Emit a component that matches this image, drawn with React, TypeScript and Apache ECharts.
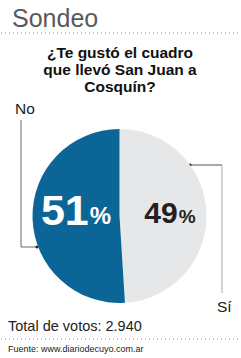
import React, { useEffect, useRef } from "react";
import * as echarts from "echarts";

const categories = ["Sí", "No"];
const values = [49, 51];
const colors = ["#e6e7e8", "#0b6597"];
const titleText = "Sondeo";
const questionLines = ["¿Te gustó el cuadro", "que llevó San Juan a", "Cosquín?"];
const totalText = "Total de votos: 2.940";
const sourceText = "Fuente: www.diariodecuyo.com.ar";

const FONT = "'Liberation Sans', Arial, Helvetica, sans-serif";

export default function App() {
  const ref = useRef<HTMLDivElement>(null);
  useEffect(() => {
    document.body.style.margin = "0";
    const chart = echarts.init(ref.current!, null, { renderer: "svg" });
    const labelOffsets = [
      [4, -3],
      [3, -8],
    ];
    const rich = {
      big: { fontSize: 43, fontWeight: "bold", fontFamily: FONT, color: "#fff", verticalAlign: "bottom", lineHeight: 44 },
      bigp: { fontSize: 24, fontWeight: "bold", fontFamily: FONT, color: "#fff", verticalAlign: "bottom", lineHeight: 44, padding: [0, 0, 4, 1] },
      mid: { fontSize: 30, fontWeight: "bold", fontFamily: FONT, color: "#231f20", verticalAlign: "bottom", lineHeight: 32 },
      midp: { fontSize: 19, fontWeight: "bold", fontFamily: FONT, color: "#231f20", verticalAlign: "bottom", lineHeight: 32, padding: [0, 0, 2, 1] },
    };
    const data = categories.map((c, i) => ({
      name: c,
      value: values[i],
      itemStyle: { color: colors[i] },
      label: {
        offset: labelOffsets[i],
        formatter: i === 1 ? "{big|{c}}{bigp|%}" : "{mid|{c}}{midp|%}",
      },
    }));
    const dotted = (y: number) => ({
      type: "line",
      shape: { x1: 1, y1: y, x2: 241, y2: y },
      style: { stroke: "#888", lineWidth: 1, lineDash: [1, 3] },
    });
    chart.setOption({
      animation: false,
      backgroundColor: "#ffffff",
      series: [
        {
          type: "pie",
          center: [119.5, 216],
          radius: [0, 87],
          startAngle: 90,
          clockwise: true,
          silent: true,
          label: { show: true, position: "inside", rich },
          labelLine: { show: false },
          itemStyle: { borderWidth: 0 },
          data,
        },
      ],
      graphic: [
        {
          type: "text",
          left: 12,
          top: 5,
          style: { text: titleText, font: `25px ${FONT}`, fill: "#58595b" },
        },
        dotted(33),
        ...questionLines.map((t, i) => ({
          type: "text",
          x: 120,
          y: 52 + i * 17,
          style: {
            text: t,
            font: `bold 15.5px ${FONT}`,
            fill: "#111",
            align: "center",
            verticalAlign: "middle",
          },
        })),
        {
          type: "text",
          x: 15,
          y: 108,
          style: { text: categories[1], font: `15.5px ${FONT}`, fill: "#222", verticalAlign: "middle" },
        },
        {
          type: "polyline",
          shape: { points: [[21, 120], [21, 247], [37, 247]] },
          style: { stroke: "#666", lineWidth: 1, fill: "none" },
        },
        { type: "circle", shape: { cx: 37, cy: 247, r: 1.5 }, style: { fill: "#222" } },
        {
          type: "polyline",
          shape: { points: [[190, 165], [222, 165]] },
          style: { stroke: "#555", lineWidth: 1, fill: "none" },
        },
        {
          type: "line",
          shape: { x1: 222, y1: 165, x2: 222, y2: 293 },
          style: { stroke: "#aaa", lineWidth: 1 },
        },
        { type: "circle", shape: { cx: 190, cy: 165, r: 1.5 }, style: { fill: "#222" } },
        {
          type: "text",
          x: 217,
          y: 306,
          style: { text: categories[0], font: `15.5px ${FONT}`, fill: "#222", verticalAlign: "middle" },
        },
        {
          type: "text",
          x: 8,
          y: 326,
          style: { text: totalText, font: `14.5px ${FONT}`, fill: "#222", verticalAlign: "middle" },
        },
        dotted(339),
        {
          type: "text",
          x: 8,
          y: 349,
          style: { text: sourceText, font: `9px ${FONT}`, fill: "#222", verticalAlign: "middle" },
        },
      ],
    });
    return () => chart.dispose();
  }, []);
  return <div ref={ref} style={{ width: 241, height: 358 }} />;
}
